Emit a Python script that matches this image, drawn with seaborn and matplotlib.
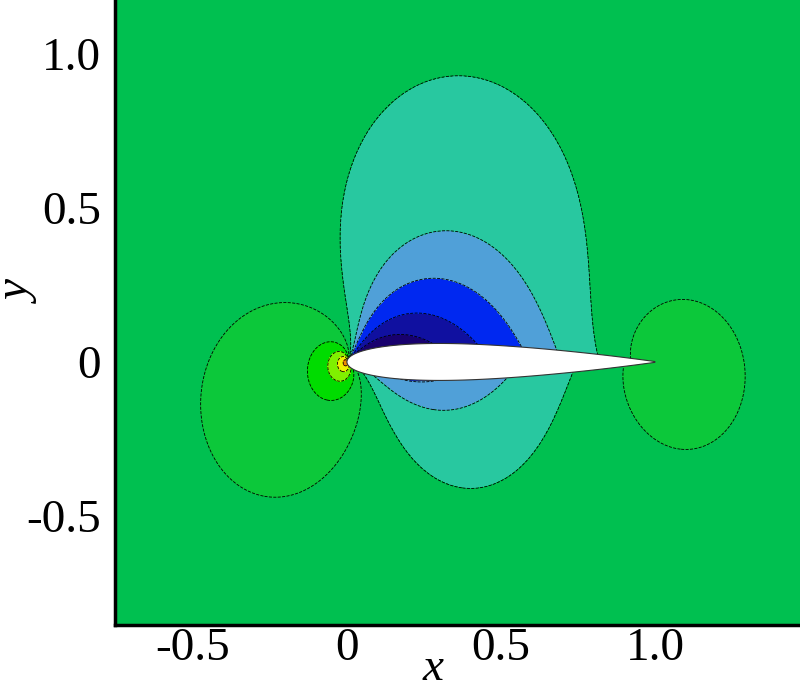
import numpy as np
import matplotlib
matplotlib.use("Agg")
import matplotlib.pyplot as plt
import seaborn as sns

# ---------------- data ----------------
# NACA 00xx section at incidence, linearised compressible flow (Prandtl-Glauert)
thickness = 0.12
mach = 0.60
alpha_deg = 1.25
# contour levels of the pressure coefficient (band boundaries, low -> high)
levels = [-0.4316, -0.3448, -0.2558, -0.1811, -0.0778,
          0.0550, 0.2309, 0.4400, 0.7631, 1.4418]
band_colors = ["#18006E", "#1010A0", "#0028F0", "#50A0D8", "#28C8A0",
               "#00C050", "#0CC83A", "#00DC00", "#80F000", "#F0F000", "#F08C00"]
x_ticks = [-0.5, 0.0, 0.5, 1.0]
x_tick_labels = ["-0.5", "0", "0.5", "1.0"]
y_ticks = [-0.5, 0.0, 0.5, 1.0]
y_tick_labels = ["-0.5", "0", "0.5", "1.0"]
x_range = (-0.753, 1.471)
y_range = (-0.854, 1.175)


def half_thick(x):
    return 5 * thickness * (0.2969 * np.sqrt(x) - 0.126 * x - 0.3516 * x**2
                            + 0.2843 * x**3 - 0.1015 * x**4)


def cp_field(X, Y, mach, alpha, n=240):
    """Thin-aerofoil source + vortex sheets, Prandtl-Glauert scaled."""
    beta = np.sqrt(1 - mach**2)
    th = np.linspace(0, np.pi, n + 1)
    xi = 0.5 * (1 - np.cos(th))
    t = half_thick(xi)
    q = 2 * np.diff(t) / np.diff(xi)
    gam = alpha * np.diff(th + np.sin(th)) / np.diff(xi)
    Ys = beta * Y + 1e-9
    u = np.zeros_like(X, dtype=float)
    for j in range(n):
        dx1 = X - xi[j]
        dx2 = X - xi[j + 1]
        r1 = dx1**2 + Ys**2 + 1e-14
        r2 = dx2**2 + Ys**2 + 1e-14
        u += q[j] / (4 * np.pi) * np.log(r1 / r2)
        u += gam[j] / (2 * np.pi) * (np.arctan2(Ys, dx2) - np.arctan2(Ys, dx1))
    return -2 * u / beta


sns.set_style("ticks")
plt.rcParams["font.family"] = ["Liberation Serif", "DejaVu Serif"]
plt.rcParams["text.color"] = "black"
plt.rcParams["xtick.color"] = "black"
plt.rcParams["ytick.color"] = "black"
plt.rcParams["axes.edgecolor"] = "black"
fig = plt.figure(figsize=(8.0, 6.92), dpi=100)
ax = fig.add_axes([115 / 800, 67 / 692, 685 / 800, 625 / 692])

gx = np.linspace(*x_range, 560)
gy = np.linspace(*y_range, 520)
GX, GY = np.meshgrid(gx, gy)
CP = cp_field(GX, GY, mach, np.radians(alpha_deg))
lev = np.array(levels)
# the linear theory has a log singularity at the trailing edge; cap it there
near_te = np.hypot(GX - 1.0, GY) < 0.08
CP = np.where(near_te, np.minimum(CP, 0.5 * (lev[5] + lev[6])), CP)
full = np.concatenate([[-1e3], lev, [1e3]])
ax.contourf(GX, GY, CP, levels=full, colors=band_colors)
ax.contour(GX, GY, CP, levels=lev, colors="k", linewidths=0.6, linestyles="--")

xs = 0.5 * (1 - np.cos(np.linspace(0, np.pi, 200)))
yt = half_thick(xs)
ax.fill(np.r_[xs, xs[::-1]], np.r_[yt, -yt[::-1]], color="white",
        ec="#333333", lw=0.8, zorder=3)

ax.set_xlim(*x_range)
ax.set_ylim(*y_range)
ax.set_xticks(x_ticks, x_tick_labels)
ax.set_yticks(y_ticks, y_tick_labels)
ax.set_xticks(np.arange(-0.7, 1.5, 0.1), minor=True)
ax.set_yticks(np.arange(-0.8, 1.2, 0.1), minor=True)
ax.tick_params(which="major", direction="in", length=11, width=2.2, labelsize=34,
               color="black", labelcolor="black")
ax.tick_params(axis="x", which="major", pad=2)
ax.tick_params(axis="y", which="major", pad=10)
ax.tick_params(which="minor", direction="in", length=6, width=1.2, color="black")
for s in ("top", "right"):
    ax.spines[s].set_visible(False)
for s in ("left", "bottom"):
    ax.spines[s].set_linewidth(2.5)
    ax.spines[s].set_color("black")

fig.text(433 / 800, 1 - 680 / 692, "x", style="italic", fontsize=34,
         ha="center", va="baseline", color="black")
fig.text(20 / 800, 1 - 292 / 692, "y", style="italic", fontsize=34,
         ha="center", va="center", rotation=90, color="black")
fig.savefig("out.png", dpi=100)
